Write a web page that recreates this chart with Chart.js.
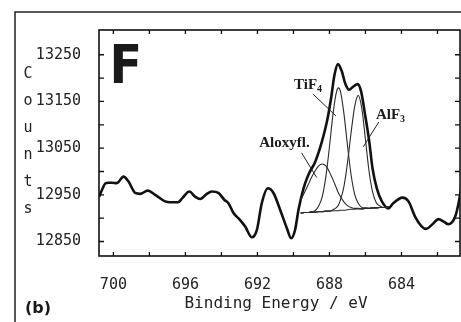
<!DOCTYPE html>
<html>
<head>
<meta charset="utf-8">
<script src="https://cdn.jsdelivr.net/npm/chart.js@4.4.1/dist/chart.umd.min.js"></script>
<style>
  html, body { margin: 0; padding: 0; background: #fff; }
  canvas { display: block; }
</style>
</head>
<body>
<canvas id="chart" width="461" height="322"></canvas>
<script>
// measured spectrum (binding energy in eV, counts)
const dataEnergy = [700.79, 700.63, 700.46, 700.28, 700.09, 699.81, 699.44, 699.17, 698.79, 698.52,
  698.09, 697.68, 697.13, 696.85, 696.42, 696.17, 695.78, 695.46, 695.18, 694.81,
  694.53, 694.17, 693.83, 693.61, 693.33, 692.96, 692.68, 692.31, 692.03, 691.76,
  691.42, 691.11, 690.74, 690.37, 690.13, 689.91, 689.72, 689.44, 689.17, 688.79,
  688.42, 688.14, 687.91, 687.72, 687.53, 687.31, 687.13, 686.91, 686.67, 686.44,
  686.24, 686.02, 685.79, 685.61, 685.37, 685.09, 684.72, 684.46, 683.94, 683.61,
  683.24, 682.87, 682.63, 682.31, 681.94, 681.67, 681.39, 681.02, 680.83, 680.70]
const dataCounts = [12946, 12961, 12974, 12976, 12976, 12975, 12989, 12979, 12954, 12952,
  12959, 12950, 12936, 12934, 12934, 12943, 12957, 12946, 12941, 12952,
  12957, 12954, 12939, 12932, 12911, 12896, 12882, 12859, 12875, 12932,
  12964, 12954, 12918, 12879, 12857, 12875, 12918, 12964, 12993, 13021,
  13064, 13107, 13157, 13207, 13230, 13214, 13189, 13175, 13182, 13187,
  13171, 13121, 13064, 13007, 12964, 12936, 12921, 12932, 12944, 12936,
  12903, 12882, 12877, 12886, 12898, 12893, 12887, 12903, 12932, 12961]

// fitted components
const fitEnergy = [689.6, 689.4, 689.2, 689.0, 688.8, 688.6, 688.4, 688.2, 688.0, 687.8, 687.6, 687.5, 687.4,
  687.2, 687.0, 686.8, 686.6, 686.4, 686.2, 686.0, 685.8, 685.6, 685.4, 685.2, 685.0, 684.7]
const baselineCounts = [12911, 12912, 12912, 12913, 12913, 12914, 12914, 12915, 12915, 12916, 12916, 12916, 12917,
  12917, 12918, 12919, 12919, 12920, 12920, 12921, 12921, 12922, 12922, 12923, 12923, 12924]
const aloxyflCounts = [12939, 12954, 12970, 12987, 13001, 13012, 13016, 13012, 12999, 12982, 12963, 12954, 12947,
  12935, 12927, 12923, 12921, 12921, 12920, 12921, 12921, 12922, 12922, 12923, 12923, 12924]
const tif4Counts = [12911, 12912, 12912, 12914, 12916, 12926, 12946, 12989, 13053, 13124, 13172, 13179, 13173,
  13125, 13056, 12993, 12951, 12932, 12923, 12922, 12921, 12922, 12922, 12923, 12923, 12924]
const alf3Counts = [12911, 12912, 12912, 12913, 12913, 12914, 12914, 12915, 12915, 12918, 12923, 12928, 12938,
  12967, 13018, 13083, 13139, 13163, 13134, 13068, 13000, 12955, 12933, 12926, 12923, 12924]

const xLabelValues = [700, 696, 692, 688, 684]
const yLabelValues = [13250, 13150, 13050, 12950, 12850]

// peak labels, placed in data coordinates
const peakLabels = [
  { text: 'TiF', sub: '4', e: 689.97, c: 13177, from: [688.92, 13166], to: [687.64, 13119] },
  { text: 'AlF', sub: '3', e: 685.42, c: 13112, from: [685.26, 13106], to: [686.12, 13053] },
  { text: 'Aloxyfl.', sub: '', e: 691.9, c: 13053, from: [689.55, 13040], to: [688.71, 12987] }
]

const pts = (xs, ys) => xs.map((x, i) => ({ x, y: ys[i] }))

const mono = '"DejaVu Sans Mono", monospace'

const decor = {
  id: 'decor',
  afterDraw(chart) {
    const { ctx, chartArea: a, scales: { x, y } } = chart
    ctx.save()

    // page frame from the scan
    ctx.strokeStyle = '#222'
    ctx.lineWidth = 1.5
    ctx.beginPath()
    ctx.moveTo(15, 322)
    ctx.lineTo(15, 12)
    ctx.lineTo(461, 12)
    ctx.stroke()

    // plot box
    ctx.strokeStyle = '#111'
    ctx.lineWidth = 1.6
    ctx.strokeRect(a.left, a.top, a.right - a.left, a.bottom - a.top)

    // inward ticks on all sides
    ctx.lineWidth = 1.3
    ctx.beginPath()
    x.ticks.forEach(t => {
      const px = x.getPixelForValue(t.value)
      if (px < a.left + 3 || px > a.right - 3) return
      ctx.moveTo(px, a.bottom); ctx.lineTo(px, a.bottom - 4)
      ctx.moveTo(px, a.top); ctx.lineTo(px, a.top + 4)
    })
    y.ticks.forEach(t => {
      const py = y.getPixelForValue(t.value)
      if (py < a.top + 3 || py > a.bottom - 3) return
      ctx.moveTo(a.left, py); ctx.lineTo(a.left + 5, py)
      ctx.moveTo(a.right, py); ctx.lineTo(a.right - 5, py)
    })
    ctx.stroke()

    // axis titles
    ctx.fillStyle = '#222'
    ctx.font = '16px ' + mono
    ctx.textAlign = 'center'
    ctx.textBaseline = 'alphabetic'
    ctx.fillText('Binding Energy / eV', 276, 308)
    ctx.font = '15px ' + mono
    'Counts'.split('').forEach((ch, i) => ctx.fillText(ch, 28, 78 + i * 27))

    // panel letters
    ctx.textAlign = 'left'
    ctx.fillStyle = '#1a1a1a'
    ctx.font = 'bold 16px "DejaVu Sans"'
    ctx.fillText('(b)', 25, 313)
    ctx.save()
    ctx.translate(109.5, 83)
    ctx.scale(0.9, 1)
    ctx.font = 'bold 53px "DejaVu Sans"'
    ctx.fillText('F', 0, 0)
    ctx.restore()

    // peak labels with leader lines
    ctx.strokeStyle = '#222'
    ctx.lineWidth = 1
    peakLabels.forEach(l => {
      ctx.beginPath()
      ctx.moveTo(x.getPixelForValue(l.from[0]), y.getPixelForValue(l.from[1]))
      ctx.lineTo(x.getPixelForValue(l.to[0]), y.getPixelForValue(l.to[1]))
      ctx.stroke()
      const px = x.getPixelForValue(l.e)
      const py = y.getPixelForValue(l.c)
      ctx.font = 'bold 15px "Liberation Serif"'
      ctx.fillText(l.text, px, py)
      if (l.sub) {
        const w = ctx.measureText(l.text).width
        ctx.font = 'bold 10px "Liberation Serif"'
        ctx.fillText(l.sub, px + w, py + 3)
      }
    })
    ctx.restore()
  }
}

const thin = (data) => ({
  data,
  borderColor: '#2a2a2a',
  borderWidth: 1.1,
  pointRadius: 0,
  cubicInterpolationMode: 'monotone'
})

new Chart(document.getElementById('chart'), {
  type: 'line',
  data: {
    datasets: [
      thin(pts(fitEnergy, baselineCounts)),
      thin(pts(fitEnergy, aloxyflCounts)),
      thin(pts(fitEnergy, tif4Counts)),
      thin(pts(fitEnergy, alf3Counts)),
      {
        data: pts(dataEnergy, dataCounts),
        borderColor: '#111',
        borderWidth: 2.6,
        pointRadius: 0,
        cubicInterpolationMode: 'monotone'
      }
    ]
  },
  options: {
    responsive: false,
    animation: false,
    layout: { padding: { left: 0, right: 1, top: 30, bottom: 0 } },
    scales: {
      x: {
        type: 'linear',
        reverse: true,
        min: 680.75,
        max: 700.8,
        afterFit: s => { s.height = 66 },
        grid: { display: false },
        border: { display: false },
        ticks: {
          stepSize: 2,
          includeBounds: false,
          autoSkip: false,
          maxRotation: 0,
          padding: 12,
          color: '#222',
          font: { family: mono, size: 15 },
          callback: v => xLabelValues.includes(v) ? String(v) : ''
        }
      },
      y: {
        min: 12819,
        max: 13303,
        afterFit: s => { s.width = 99 },
        grid: { display: false },
        border: { display: false },
        ticks: {
          stepSize: 50,
          includeBounds: false,
          autoSkip: false,
          padding: 10,
          color: '#222',
          font: { family: mono, size: 15 },
          callback: v => yLabelValues.includes(v) ? String(v) : ''
        }
      }
    },
    plugins: {
      legend: { display: false },
      tooltip: { enabled: false }
    }
  },
  plugins: [decor]
})
</script>
</body>
</html>
